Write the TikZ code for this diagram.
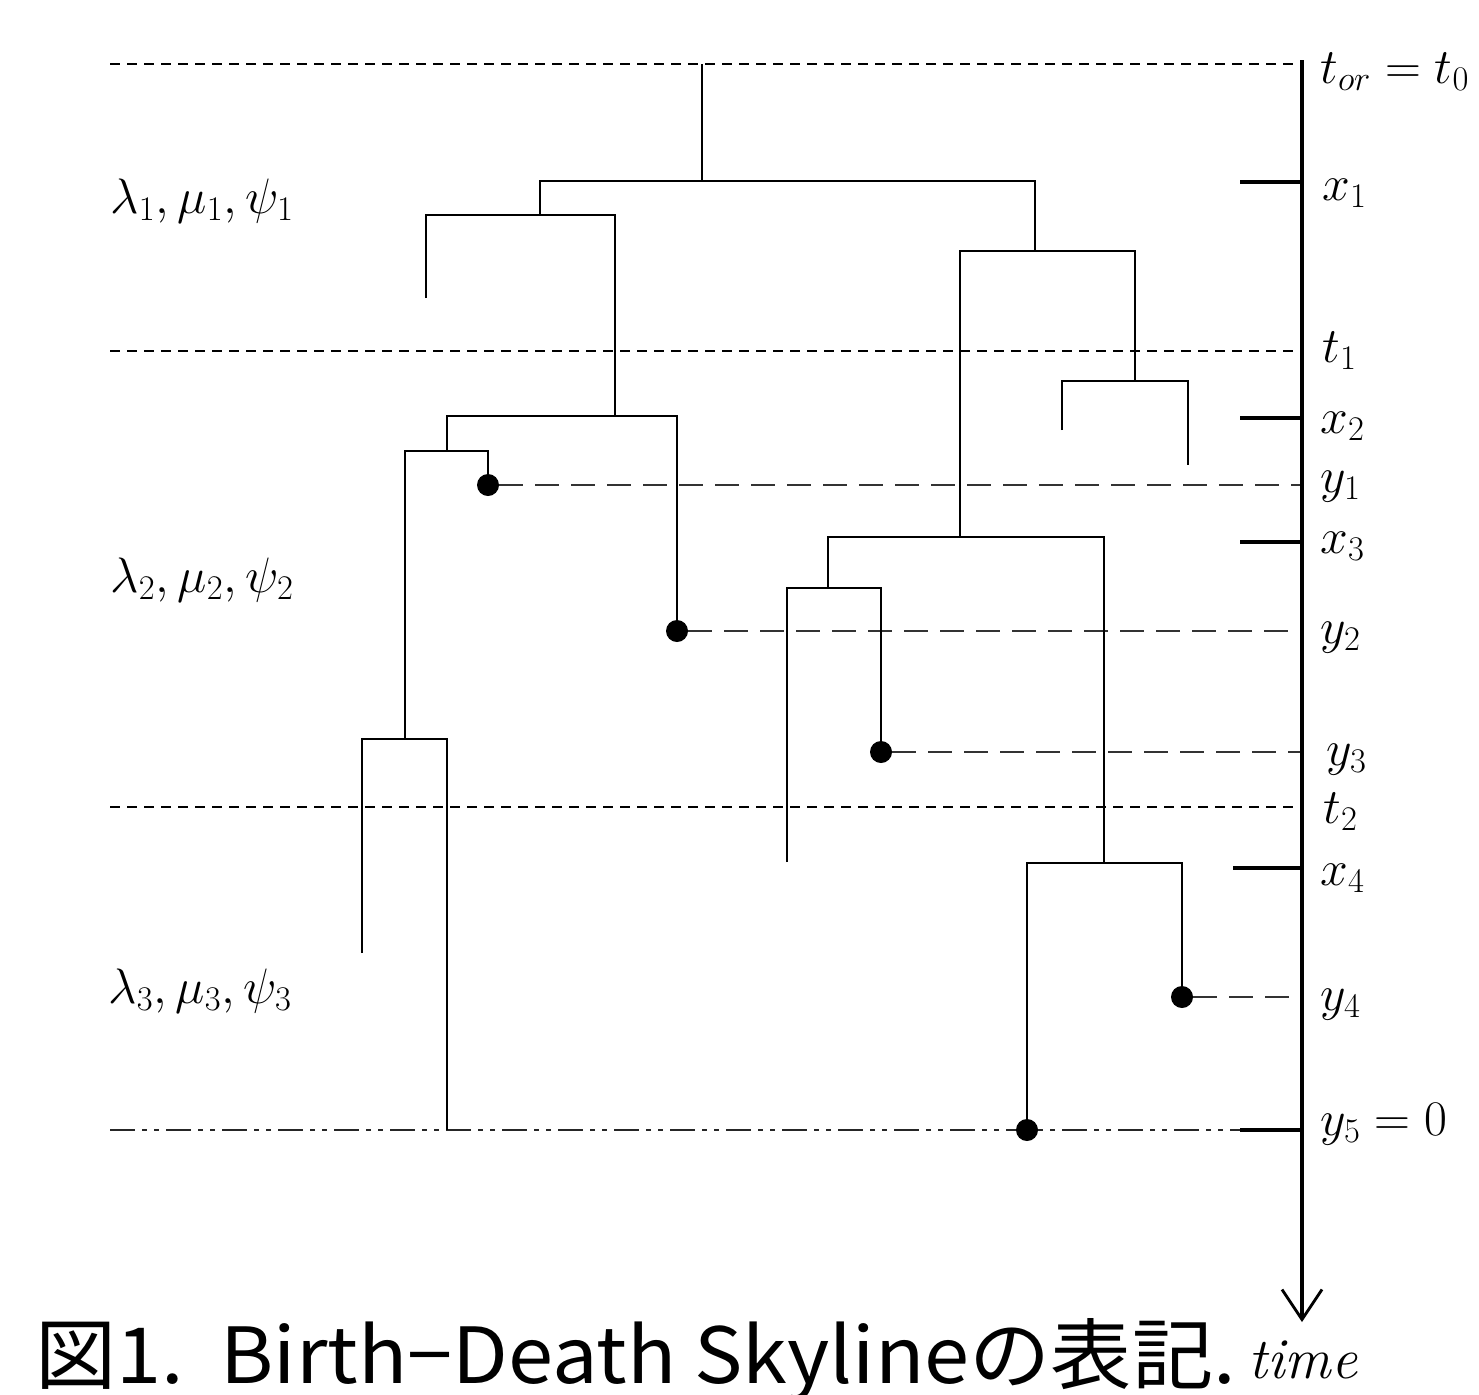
\documentclass[tikz,border=0pt]{standalone}
\usepackage{fontspec}
\newfontfamily\cjk{Noto Sans CJK JP}
\usetikzlibrary{arrows.meta}
\begin{document}
\begin{tikzpicture}[x=0.5pt,y=-0.5pt,
  branch/.style={line width=1.15pt},
  axisline/.style={line width=2.2pt},
  tickmark/.style={line width=2.2pt},
  tline/.style={line width=0.7pt, dash pattern=on 5pt off 3.5pt},
  yline/.style={line width=0.9pt, black!80, dash pattern=on 12pt off 6pt},
  zline/.style={line width=0.9pt, black!85, dash pattern=on 12.5pt off 3.5pt on 2.5pt off 3.5pt on 2.5pt off 3.5pt},
  sample/.style={circle, fill=black, inner sep=0pt, minimum size=11pt},
  lbl/.style={anchor=base west, inner sep=0pt, font=\fontsize{26}{30}\selectfont},
  rate/.style={anchor=base west, inner sep=0pt, font=\fontsize{26}{30}\selectfont}
]
\useasboundingbox (0,0) rectangle (1479,1394);

% axis
\coordinate (atop) at (1302,60);
\coordinate (abot) at (1302,1322);
\draw[axisline, -{Straight Barb[length=15pt, width=20pt, line width=1.4pt]}] (atop) -- (abot);

% horizontal time lines
\coordinate (Ltor) at (110,64);   \coordinate (Rtor) at (1300,64);
\coordinate (Lt1) at (110,351);   \coordinate (Rt1) at (1300,351);
\coordinate (Lt2) at (110,807);   \coordinate (Rt2) at (1300,807);
\coordinate (Lz) at (110,1130);   \coordinate (Mz) at (1240,1130); \coordinate (Rz) at (1302,1130);
\draw[tline] (Ltor) -- (Rtor);
\draw[tline] (Lt1) -- (Rt1);
\draw[tline] (Lt2) -- (Rt2);
\draw[zline] (Lz) -- (Mz);
\draw[tickmark] (Mz) -- (Rz);

% ticks for x
\coordinate (x1a) at (1240,182); \coordinate (x1b) at (1302,182);
\coordinate (x2a) at (1240,418); \coordinate (x2b) at (1302,418);
\coordinate (x3a) at (1240,542); \coordinate (x3b) at (1302,542);
\coordinate (x4a) at (1233,868); \coordinate (x4b) at (1302,868);
\draw[tickmark] (x1a) -- (x1b);
\draw[tickmark] (x2a) -- (x2b);
\draw[tickmark] (x3a) -- (x3b);
\draw[tickmark] (x4a) -- (x4b);

% sampling dots
\node[sample] (s1) at (488,485) {};
\node[sample] (s2) at (677,631) {};
\node[sample] (s3) at (881,752) {};
\node[sample] (s4) at (1182,997) {};
\node[sample] (s5) at (1027,1130) {};
\coordinate (y1r) at (1300,485);
\coordinate (y2r) at (1300,631);
\coordinate (y3r) at (1300,752);
\coordinate (y4r) at (1300,997);
\draw[yline] (s1) -- (y1r);
\draw[yline] (s2) -- (y2r);
\draw[yline] (s3) -- (y3r);
\draw[yline] (s4) -- (y4r);

% tree
\coordinate (root) at (702,64);
\draw[branch] (root) -- (702,181);
\draw[branch] (540,215) -- (540,181) -- (1035,181) -- (1035,251);
% left subtree
\draw[branch] (426,298) -- (426,215) -- (615,215) -- (615,416);
\draw[branch] (447,451) -- (447,416) -- (677,416) -- (s2.center);
\draw[branch] (405,739) -- (405,451) -- (488,451) -- (s1.center);
\draw[branch] (362,953) -- (362,739) -- (447,739) -- (447,1130);
% right subtree
\draw[branch] (960,537) -- (960,251) -- (1135,251) -- (1135,381);
\draw[branch] (1062,430) -- (1062,381) -- (1188,381) -- (1188,465);
\draw[branch] (828,588) -- (828,537) -- (1104,537) -- (1104,863);
\draw[branch] (787,862) -- (787,588) -- (881,588) -- (s3.center);
\draw[branch] (s5.center) -- (1027,863) -- (1182,863) -- (s4.center);

% axis labels
\node[lbl] (ltor) at (1320,83) {$t_{or}=t_0$};
\node[lbl] (lx1) at (1322,200) {$x_1$};
\node[lbl] (lt1) at (1322,362) {$t_1$};
\node[lbl] (lx2) at (1320,433) {$x_2$};
\node[lbl] (ly1) at (1320,492) {$y_1$};
\node[lbl] (lx3) at (1320,553) {$x_3$};
\node[lbl] (ly2) at (1320,643) {$y_2$};
\node[lbl] (ly3) at (1326,765) {$y_3$};
\node[lbl] (lt2) at (1323,823) {$t_2$};
\node[lbl] (lx4) at (1320,885) {$x_4$};
\node[lbl] (ly4) at (1320,1010) {$y_4$};
\node[lbl] (ly5) at (1320,1135) {$y_5=0$};

% rate labels
\node[rate] (r1) at (110,213) {$\lambda_1,\mu_1,\psi_1$};
\node[rate] (r2) at (110,592) {$\lambda_2,\mu_2,\psi_2$};
\node[rate] (r3) at (108,1003) {$\lambda_3,\mu_3,\psi_3$};

% caption
\node[anchor=base west, inner sep=0pt] (cap) at (35,1383)
  {\resizebox{600pt}{32.5pt}{\cjk 図1.\ \ Birth−Death Skylineの表記.}};
\node[anchor=base west, inner sep=0pt, font=\fontsize{29}{32}\selectfont\itshape] (tm) at (1248,1378) {time};
\end{tikzpicture}
\end{document}
